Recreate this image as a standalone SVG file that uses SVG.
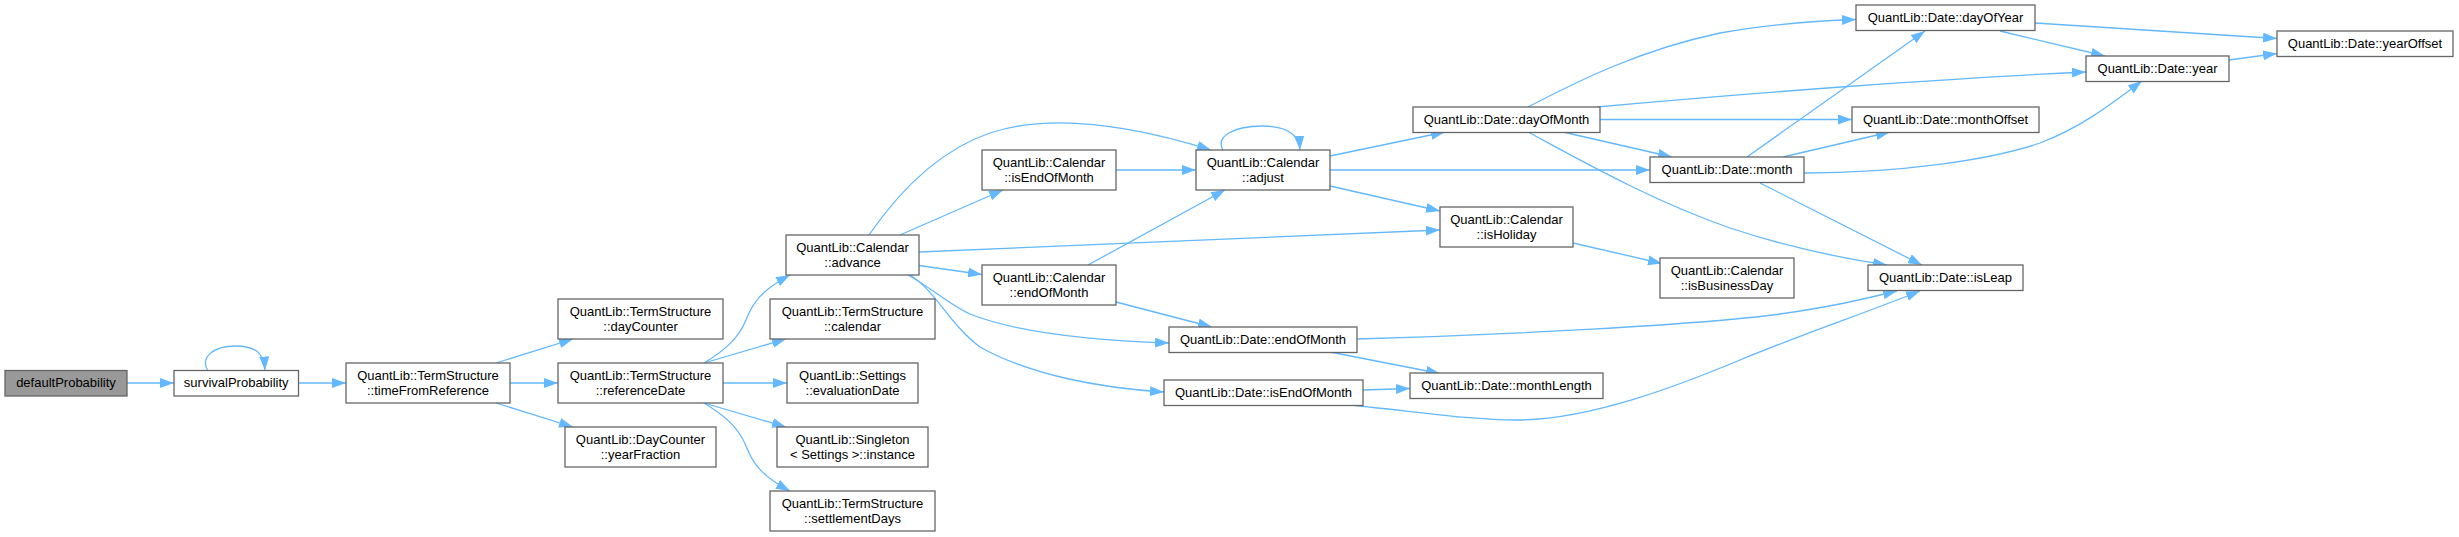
<svg xmlns="http://www.w3.org/2000/svg" width="2459" height="537" viewBox="0 0 2459 537">
<style>
.n rect{fill:#ffffff;stroke:#666666;stroke-width:1.3}
.root rect{fill:#999999}
text{font-family:"Liberation Sans",Arial,sans-serif;font-size:13px;fill:#000000;text-anchor:middle}
#edges path{fill:none;stroke:#63b8ff;stroke-width:1.3;marker-end:url(#arr)}
</style>
<defs>
<marker id="arr" viewBox="0 0 14 10" refX="14" refY="5" markerWidth="14" markerHeight="10" markerUnits="userSpaceOnUse" orient="auto">
<path d="M0,0 L14,5 L0,10 Z" fill="#63b8ff"/>
</marker>
</defs>
<rect width="2459" height="537" fill="#ffffff"/>
<g id="edges">
<path d="M127,383 L174,383"/>
<path d="M208,371 C200,358 212,346 236,346 C254,346 264,352 265,370.5"/>
<path d="M298.5,383 L346,383"/>
<path d="M496,363 L573,339"/>
<path d="M510,383 L558,383"/>
<path d="M496,403 L573,427"/>
<path d="M704,363 C722,352 738,340 746,320 C753,302 762,290 790,275"/>
<path d="M704,363 L786,339"/>
<path d="M723,383 L787,383"/>
<path d="M704,403 L786,427"/>
<path d="M704,403 C722,414 738,426 746,446 C753,464 762,476 790,491"/>
<path d="M869,235 C900,190 940,150 990,133 C1050,113 1130,125 1211,150"/>
<path d="M900,235 L1003,190"/>
<path d="M919,252 L1440,230"/>
<path d="M919,265.5 L982,274.5"/>
<path d="M908,275 C930,287 950,305 970,314 C1010,330 1080,340 1169,343"/>
<path d="M910,275 C935,290 950,325 980,347 C1030,375 1100,388 1164,392"/>
<path d="M1116,170 L1196,170"/>
<path d="M1088,265 L1225,190"/>
<path d="M1116,302 L1212,327"/>
<path d="M1223,150 C1215,136 1235,126 1262,126 C1285,126 1299,133 1300,150"/>
<path d="M1330,156 L1445,132"/>
<path d="M1330,170 L1650,170"/>
<path d="M1330,186 L1440,211"/>
<path d="M1528,107 C1580,80 1640,50 1720,33 C1770,24 1810,21 1856,19.5"/>
<path d="M1597,107 C1750,93 1950,78 2086,72"/>
<path d="M1600,119.5 L1852,119.5"/>
<path d="M1563,132 L1672,157"/>
<path d="M1528,132 C1580,160 1650,200 1730,228 C1790,248 1840,258 1887,265"/>
<path d="M1747,157 L1925,31"/>
<path d="M1804,173 C1900,173 1990,160 2040,143 C2080,128 2110,105 2142,81"/>
<path d="M1783,157 L1890,132"/>
<path d="M1760,183 L1922,265"/>
<path d="M2000,31 L2105,56"/>
<path d="M2035,23 L2277,38.5"/>
<path d="M2229,60 L2277,53.5"/>
<path d="M1573,243 L1662,263.5"/>
<path d="M1357,339 C1500,335 1700,325 1780,314 C1830,307 1860,300 1897,291"/>
<path d="M1330,352 L1440,373.5"/>
<path d="M1363,390 L1410,388.5"/>
<path d="M1350,405 C1420,412 1470,420 1517,420 C1590,420 1680,385 1740,360 C1800,335 1860,315 1920,291"/>
</g>
<g id="n0" class="n root"><rect x="5" y="370.5" width="122" height="25.5"/><text x="66" y="387">defaultProbability</text></g>
<g id="n1" class="n"><rect x="174" y="370.5" width="124.5" height="25.5"/><text x="236.25" y="387">survivalProbability</text></g>
<g id="n2" class="n"><rect x="346" y="363" width="164" height="40"/><text x="428" y="380">QuantLib::TermStructure</text><text x="428" y="395">::timeFromReference</text></g>
<g id="n3" class="n"><rect x="558" y="299" width="165" height="40"/><text x="640.5" y="316">QuantLib::TermStructure</text><text x="640.5" y="331">::dayCounter</text></g>
<g id="n4" class="n"><rect x="558" y="363" width="165" height="40"/><text x="640.5" y="380">QuantLib::TermStructure</text><text x="640.5" y="395">::referenceDate</text></g>
<g id="n5" class="n"><rect x="565" y="427" width="151" height="40"/><text x="640.5" y="444">QuantLib::DayCounter</text><text x="640.5" y="459">::yearFraction</text></g>
<g id="n6" class="n"><rect x="786" y="235" width="133" height="40"/><text x="852.5" y="252">QuantLib::Calendar</text><text x="852.5" y="267">::advance</text></g>
<g id="n7" class="n"><rect x="770" y="299" width="165" height="40"/><text x="852.5" y="316">QuantLib::TermStructure</text><text x="852.5" y="331">::calendar</text></g>
<g id="n8" class="n"><rect x="787" y="363" width="131" height="40"/><text x="852.5" y="380">QuantLib::Settings</text><text x="852.5" y="395">::evaluationDate</text></g>
<g id="n9" class="n"><rect x="777" y="427" width="151" height="40"/><text x="852.5" y="444">QuantLib::Singleton</text><text x="852.5" y="459">&lt; Settings &gt;::instance</text></g>
<g id="n10" class="n"><rect x="770" y="491" width="165" height="40"/><text x="852.5" y="508">QuantLib::TermStructure</text><text x="852.5" y="523">::settlementDays</text></g>
<g id="n11" class="n"><rect x="982" y="150" width="134" height="40"/><text x="1049" y="167">QuantLib::Calendar</text><text x="1049" y="182">::isEndOfMonth</text></g>
<g id="n12" class="n"><rect x="982" y="265" width="134" height="40"/><text x="1049" y="282">QuantLib::Calendar</text><text x="1049" y="297">::endOfMonth</text></g>
<g id="n13" class="n"><rect x="1196" y="150" width="134" height="40"/><text x="1263" y="167">QuantLib::Calendar</text><text x="1263" y="182">::adjust</text></g>
<g id="n14" class="n"><rect x="1169" y="327" width="188" height="25.5"/><text x="1263" y="343.5">QuantLib::Date::endOfMonth</text></g>
<g id="n15" class="n"><rect x="1164" y="380" width="199" height="25.5"/><text x="1263.5" y="396.5">QuantLib::Date::isEndOfMonth</text></g>
<g id="n16" class="n"><rect x="1413" y="107" width="187" height="25.5"/><text x="1506.5" y="123.5">QuantLib::Date::dayOfMonth</text></g>
<g id="n17" class="n"><rect x="1440" y="207" width="133" height="40"/><text x="1506.5" y="224">QuantLib::Calendar</text><text x="1506.5" y="239">::isHoliday</text></g>
<g id="n18" class="n"><rect x="1410" y="373" width="193" height="25.5"/><text x="1506.5" y="389.5">QuantLib::Date::monthLength</text></g>
<g id="n19" class="n"><rect x="1650" y="157" width="154" height="25.5"/><text x="1727" y="173.5">QuantLib::Date::month</text></g>
<g id="n20" class="n"><rect x="1660" y="258" width="134" height="40"/><text x="1727" y="275">QuantLib::Calendar</text><text x="1727" y="290">::isBusinessDay</text></g>
<g id="n21" class="n"><rect x="1856" y="5" width="179" height="25.5"/><text x="1945.5" y="21.5">QuantLib::Date::dayOfYear</text></g>
<g id="n22" class="n"><rect x="1852" y="107" width="187" height="25.5"/><text x="1945.5" y="123.5">QuantLib::Date::monthOffset</text></g>
<g id="n23" class="n"><rect x="1868" y="265" width="155" height="25.5"/><text x="1945.5" y="281.5">QuantLib::Date::isLeap</text></g>
<g id="n24" class="n"><rect x="2086" y="56" width="143" height="25.5"/><text x="2157.5" y="72.5">QuantLib::Date::year</text></g>
<g id="n25" class="n"><rect x="2277" y="31" width="176" height="25.5"/><text x="2365" y="47.5">QuantLib::Date::yearOffset</text></g>
</svg>
